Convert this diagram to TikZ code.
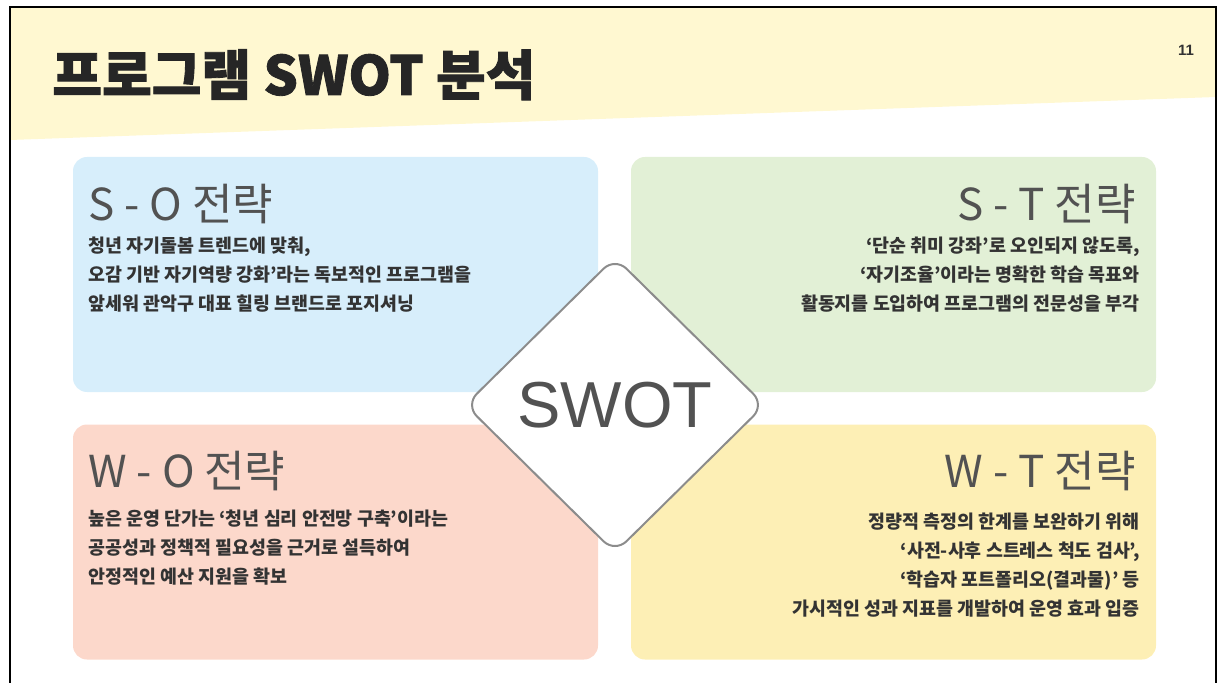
\documentclass[tikz,border=0pt]{standalone}
\usepackage{fontspec}
\setmainfont{Noto Sans CJK KR}
\newfontfamily\latinfont{Liberation Sans}
\newfontfamily\titlefont[FakeBold=1.6]{Noto Sans CJK KR}
\usetikzlibrary{positioning,shapes.geometric}
\definecolor{swotHeader}{RGB}{255,248,209}
\definecolor{swotBlue}{RGB}{215,238,251}
\definecolor{swotGreen}{RGB}{226,240,214}
\definecolor{swotSalmon}{RGB}{252,216,203}
\definecolor{swotYellow}{RGB}{253,239,181}
\definecolor{swotInk}{RGB}{51,51,51}
\definecolor{swotGray}{RGB}{82,82,82}
\definecolor{swotEdge}{RGB}{140,140,140}

\tikzset{
  stratbox/.style={rounded corners=7pt, minimum width=262.5pt, minimum height=117.5pt, inner sep=0pt},
  headtxt/.style={text=swotGray, font=\fontsize{22}{25}\selectfont, inner sep=0pt},
  bodytxt/.style={text=swotInk, font=\bfseries\fontsize{9.2}{14.35}\selectfont, inner sep=0pt}
}

\begin{document}
\begin{tikzpicture}[x=0.5pt, y=-0.5pt]
\useasboundingbox (0,0) rectangle (1218,683);

% header band and frame
\fill[swotHeader] (10,7) -- (1216,7) -- (1216,97) -- (10,140) -- cycle;
\draw[black, line width=1.1pt] (10,683) -- (10,7) -- (1216,7) -- (1216,683);
\node[anchor=base west, inner sep=0pt, text=black!85,
  font=\titlefont\bfseries\fontsize{27}{30}\selectfont] (title) at (52,95) {프로그램 SWOT 분석};
\node[inner sep=0pt, text=swotInk, font=\latinfont\bfseries\fontsize{7.5}{9}\selectfont] (pageNo) at (1186,50) {11};

% four strategy boxes
\node[stratbox, fill=swotBlue] (soBox) at (335.5,274.5) {};
\node[stratbox, fill=swotGreen] (stBox) at (893.5,274.5) {};
\node[stratbox, fill=swotSalmon] (woBox) at (335.5,542) {};
\node[stratbox, fill=swotYellow] (wtBox) at (893.5,542) {};

\node[headtxt, anchor=base west] (soHead) at (88,221) {S - O 전략};
\node[headtxt, anchor=base east] (stHead) at (1136,221) {S - T 전략};
\node[headtxt, anchor=base west] (woHead) at (88,487) {W - O 전략};
\node[headtxt, anchor=base east] (wtHead) at (1136,487) {W - T 전략};

\node[bodytxt, align=left, anchor=north west] (soBody) at (88,237)
  {청년 자기돌봄 트렌드에 맞춰,\\ 오감 기반 자기역량 강화’라는 독보적인 프로그램을\\ 앞세워 관악구 대표 힐링 브랜드로 포지셔닝};
\node[bodytxt, align=right, anchor=north east] (stBody) at (1140,237)
  {‘단순 취미 강좌’로 오인되지 않도록,\\ ‘자기조율’이라는 명확한 학습 목표와\\ 활동지를 도입하여 프로그램의 전문성을 부각};
\node[bodytxt, align=left, anchor=north west] (woBody) at (88,510)
  {높은 운영 단가는 ‘청년 심리 안전망 구축’이라는\\ 공공성과 정책적 필요성을 근거로 설득하여\\ 안정적인 예산 지원을 확보};
\node[bodytxt, align=right, anchor=north east] (wtBody) at (1140,513)
  {정량적 측정의 한계를 보완하기 위해\\ ‘사전-사후 스트레스 척도 검사’,\\ ‘학습자 포트폴리오(결과물)’ 등\\ 가시적인 성과 지표를 개발하여 운영 효과 입증};

% centre diamond
\node[diamond, draw=swotEdge, line width=1pt, fill=white, rounded corners=8pt,
  minimum width=150pt, minimum height=148pt, inner sep=0pt,
  text=swotGray, font=\latinfont\fontsize{32.5}{36}\selectfont] (swotCore) at (615,405) {SWOT};
\end{tikzpicture}
\end{document}
